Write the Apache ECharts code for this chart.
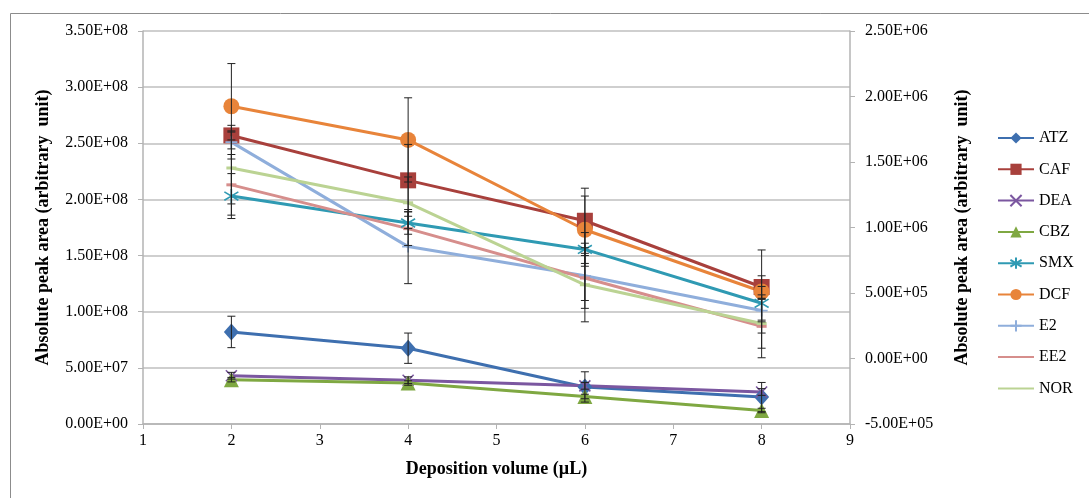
<!DOCTYPE html>
<html>
<head>
<meta charset="utf-8">
<script src="https://cdn.jsdelivr.net/npm/echarts@6/dist/echarts.min.js"></script>
<style>
  html, body { margin: 0; padding: 0; background: #fff; }
  #chart { width: 1089px; height: 498px; }
</style>
</head>
<body>
<div id="chart"></div>
<script>
// deposition volumes (µL)
var volumes = [2, 4, 6, 8];

// mean peak areas
var ATZ = [8.2e7, 6.75e7, 3.3e7, 2.4e7];
var CAF = [2.57e8, 2.17e8, 1.81e8, 1.22e8];
var DEA = [4.3e7, 3.9e7, 3.4e7, 2.85e7];
var CBZ = [3.95e7, 3.65e7, 2.45e7, 1.2e7];
var SMX = [2.03e8, 1.79e8, 1.555e8, 1.075e8];
var DCF = [2.83e8, 2.53e8, 1.73e8, 1.18e8];
var E2 = [2.51e8, 1.58e8, 1.32e8, 1.01e8];
var EE2 = [2.13e8, 1.74e8, 1.3e8, 8.7e7];
var NOR = [2.28e8, 1.97e8, 1.24e8, 8.95e7];

// error bar half widths
var ATZ_err = [1.4e7, 1.35e7, 1.35e7, 1.3e7];
var CAF_err = [4e6, 3.2e7, 2.9e7, 1.0e7];
var DEA_err = [3e6, 3e6, 3e6, 3e6];
var CBZ_err = [2e6, 2e6, 2e6, 2e6];
var SMX_err = [2.0e7, 1.0e7, 1.5e7, 1.5e7];
var DCF_err = [3.8e7, 3.75e7, 3.0e7, 3.7e7];
var E2_err = [1.5e7, 3.3e7, 2.9e7, 1.0e7];
var EE2_err = [2.7e7, 1.5e7, 2.0e7, 2.8e7];
var NOR_err = [3.2e7, 2.3e7, 3.3e7, 2.2e7];

var names = ['ATZ', 'CAF', 'DEA', 'CBZ', 'SMX', 'DCF', 'E2', 'EE2', 'NOR'];
var values = [ATZ, CAF, DEA, CBZ, SMX, DCF, E2, EE2, NOR];
var errors = [ATZ_err, CAF_err, DEA_err, CBZ_err, SMX_err, DCF_err, E2_err, EE2_err, NOR_err];

var colors = ['#3E6FAF', '#A8403C', '#7B57A0', '#7FA842', '#2F9AB3', '#E8843A', '#8FAEDB', '#D68E8C', '#BBD393'];
// dash marker, hidden inside the line like excel's
var dash = 'path://M0,4L10,4L10,6L0,6Z';
var symbols = [
  'diamond', 'rect',
  'path://M0,0L10,10M10,0L0,10',
  'triangle',
  'path://M5,0L5,10M0,2L10,8M0,8L10,2',
  'circle',
  'path://M5,0L5,10M0,5L10,5',
  dash, dash
];
var symbolSizes = [[15, 17], 16, 11, 15, 14, 16, 12, [10, 3], [10, 3]];

var font = 'Liberation Serif';

// 3.50E+08 style labels
function sci(v) {
  var p = Number(v).toExponential(2).split('e');
  var e = parseInt(p[1], 10);
  var s = e < 0 ? '-' : '+';
  e = Math.abs(e);
  return p[0] + 'E' + s + (e < 10 ? '0' + e : '' + e);
}

var series = [];
var errData = [];
for (var i = 0; i < names.length; i++) {
  var pts = [];
  for (var j = 0; j < volumes.length; j++) {
    pts.push([volumes[j], values[i][j]]);
    errData.push([volumes[j], values[i][j] - errors[i][j], values[i][j] + errors[i][j]]);
  }
  var isCross = symbols[i].indexOf('path://') === 0 && symbols[i] !== dash;
  series.push({
    name: names[i],
    type: 'line',
    data: pts,
    symbol: symbols[i],
    symbolSize: symbolSizes[i],
    z: 3,
    lineStyle: { color: colors[i], width: 3 },
    itemStyle: isCross
      ? { color: colors[i], borderColor: colors[i], borderWidth: 1.6 }
      : { color: colors[i] },
    emphasis: { disabled: true },
    animation: false
  });
}

// error bars
series.push({
  type: 'custom',
  name: 'err',
  data: errData,
  z: 4,
  silent: true,
  animation: false,
  renderItem: function (params, api) {
    var x = api.value(0);
    var lo = api.coord([x, api.value(1)]);
    var hi = api.coord([x, api.value(2)]);
    var w = 4;
    var st = { stroke: '#222', lineWidth: 1 };
    return {
      type: 'group',
      children: [
        { type: 'line', shape: { x1: lo[0], y1: lo[1], x2: hi[0], y2: hi[1] }, style: st },
        { type: 'line', shape: { x1: hi[0] - w, y1: hi[1], x2: hi[0] + w, y2: hi[1] }, style: st },
        { type: 'line', shape: { x1: lo[0] - w, y1: lo[1], x2: lo[0] + w, y2: lo[1] }, style: st }
      ]
    };
  }
});

// legend entries, EE2 / NOR show just the line
var legendData = names.map(function (n) {
  if (n === 'EE2' || n === 'NOR') return { name: n, itemStyle: { opacity: 0 } };
  return n;
});

var myChart = echarts.init(document.getElementById('chart'));
var option = {
  backgroundColor: '#fff',
  animation: false,
  graphic: [{
    type: 'rect',
    left: 8, top: 11,
    shape: { width: 1200, height: 600 },
    style: { fill: 'none', stroke: '#8c8c8c', lineWidth: 1 },
    silent: true
  }],
  grid: { left: 143, right: 239, top: 31, bottom: 74 },
  legend: {
    orient: 'vertical',
    left: 992,
    top: 125,
    itemWidth: 36,
    itemHeight: 14,
    itemGap: 15.3,
    data: legendData,
    textStyle: { fontFamily: font, fontSize: 16, color: '#000' }
  },
  xAxis: {
    type: 'value',
    min: 1, max: 9, interval: 1,
    name: 'Deposition volume (µL)',
    nameLocation: 'middle',
    nameGap: 36,
    nameTextStyle: { fontFamily: font, fontSize: 18, fontWeight: 'bold', color: '#000' },
    axisLine: { lineStyle: { color: '#b3b3b3', width: 1.5 } },
    axisTick: { show: true, length: 5, lineStyle: { color: '#b3b3b3' } },
    axisLabel: { fontFamily: font, fontSize: 16, color: '#000', margin: 9 },
    splitLine: { show: false }
  },
  yAxis: [{
    type: 'value',
    min: 0, max: 3.5e8, interval: 5e7,
    position: 'left',
    name: 'Absolute peak area (arbitrary  unit)',
    nameLocation: 'middle',
    nameRotate: 90,
    nameGap: 91,
    nameTextStyle: { fontFamily: font, fontSize: 18, fontWeight: 'bold', color: '#000' },
    axisLine: { show: true, lineStyle: { color: '#b3b3b3', width: 1.5 } },
    axisTick: { show: true, length: 5, lineStyle: { color: '#b3b3b3' } },
    axisLabel: { fontFamily: font, fontSize: 16, color: '#000', margin: 15, formatter: sci },
    splitLine: { show: true, lineStyle: { color: '#bfbfbf', width: 1.5 } }
  }, {
    type: 'value',
    min: -5e5, max: 2.5e6, interval: 5e5,
    position: 'right',
    name: 'Absolute peak area (arbitrary  unit)',
    nameLocation: 'middle',
    nameRotate: 90,
    nameGap: 103,
    nameTextStyle: { fontFamily: font, fontSize: 18, fontWeight: 'bold', color: '#000' },
    axisLine: { show: true, lineStyle: { color: '#b3b3b3', width: 1.5 } },
    axisTick: { show: true, length: 5, lineStyle: { color: '#b3b3b3' } },
    axisLabel: { fontFamily: font, fontSize: 16, color: '#000', margin: 15, formatter: sci },
    splitLine: { show: false }
  }],
  series: series
};
myChart.setOption(option);
</script>
</body>
</html>
